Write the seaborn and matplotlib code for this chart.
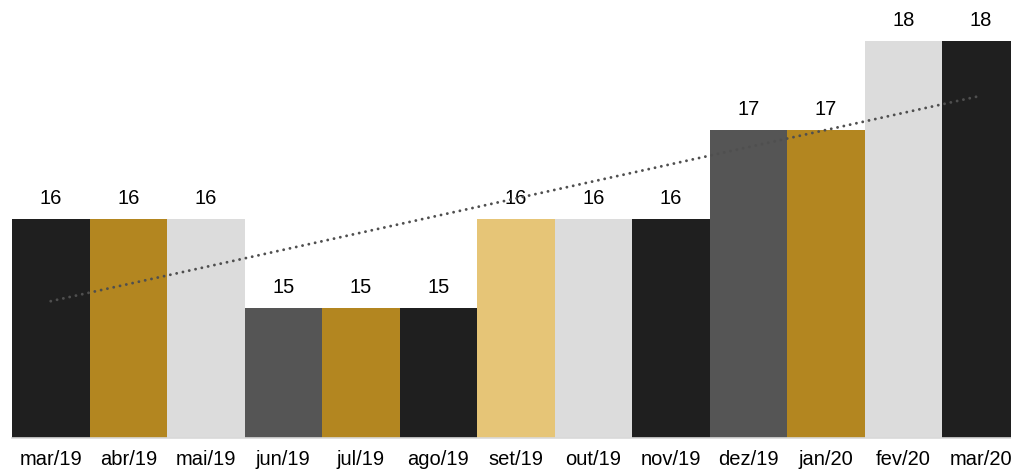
import numpy as np
import matplotlib
matplotlib.use("Agg")
import matplotlib.pyplot as plt
import seaborn as sns

# dados
meses = ["mar/19", "abr/19", "mai/19", "jun/19", "jul/19", "ago/19", "set/19",
         "out/19", "nov/19", "dez/19", "jan/20", "fev/20", "mar/20"]
valores = [16, 16, 16, 15, 15, 15, 16, 16, 16, 17, 17, 18, 18]

# cores das barras
cores = ["#1f1f1f", "#b38620", "#dcdcdc", "#555555", "#b38620", "#1f1f1f", "#e6c577",
         "#dcdcdc", "#1f1f1f", "#555555", "#b38620", "#dcdcdc", "#1f1f1f"]

sns.set_style("white")
plt.rcParams["font.family"] = ["Liberation Sans", "DejaVu Sans"]

fig = plt.figure(figsize=(10.12, 4.70), dpi=100)
ax = fig.add_axes([12 / 1012, 32 / 470, 1007.75 / 1012, 438 / 470])

sns.barplot(x=meses, y=valores, hue=meses, palette=cores, width=1,
            saturation=1, legend=False, linewidth=0, edgecolor="none", ax=ax)

# linha de tendencia (regressao linear)
x = np.arange(len(valores))
a, b = np.polyfit(x, valores, 1)
ax.plot(x, a * x + b, color="#4f4f4f", lw=2.1, linestyle=(0, (0.01, 2.2)),
        dash_capstyle="round", zorder=5)

for i, v in enumerate(valores):
    ax.annotate(str(v), (i, v), xytext=(0, 10.5), textcoords="offset points",
                ha="center", va="baseline", fontsize=14.5, color="black")

ax.set_ylim(13.54, 18.46)
ax.set_xlim(-0.5, len(valores) - 0.5)
ax.set_yticks([])
ax.set_xlabel("")
ax.set_ylabel("")
ax.tick_params(axis="x", length=0, pad=8.5, labelsize=14.5, labelcolor="black")
for s in ["top", "left", "right"]:
    ax.spines[s].set_visible(False)
ax.spines["bottom"].set_color("#d9d9d9")
ax.spines["bottom"].set_linewidth(1.2)

fig.savefig("out.png", dpi=100)
